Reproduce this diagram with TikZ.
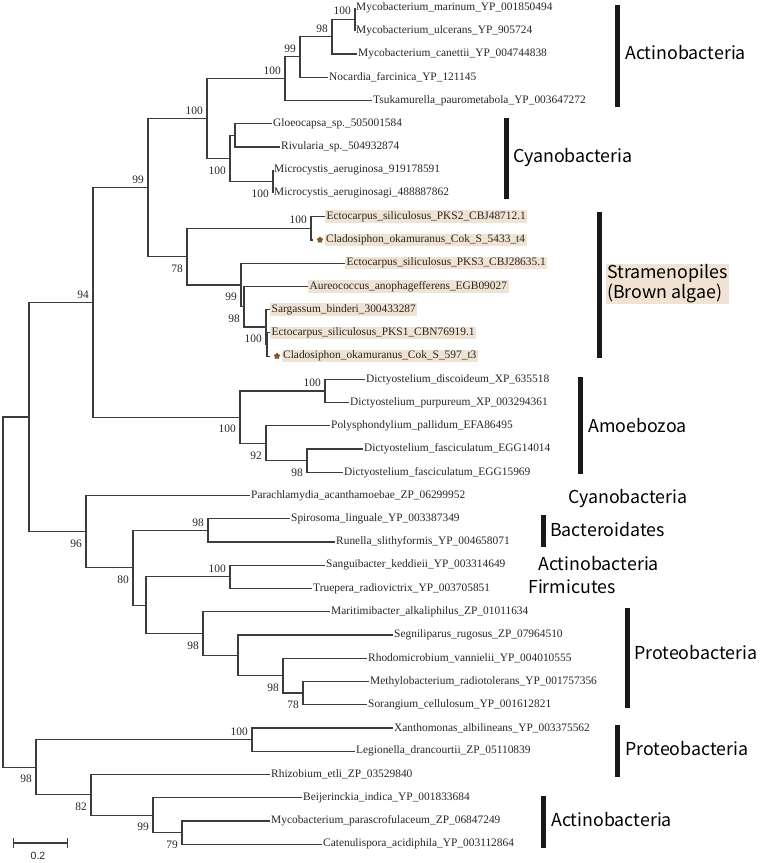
\documentclass[tikz,border=0pt]{standalone}
\usepackage{fontspec}
\setmainfont{Liberation Serif}
\newfontfamily\cladefont{Noto Sans CJK JP}
\newfontfamily\scalebarfont{Liberation Sans}
\usetikzlibrary{shapes.geometric,arrows.meta}
\definecolor{hlbeige}{RGB}{240,227,211}
\definecolor{starbrown}{RGB}{139,84,38}
\definecolor{branchgray}{RGB}{60,60,60}
\tikzset{
  branch/.style={draw=branchgray, line width=1.2pt},
  leaf/.style={anchor=west, inner sep=1pt, font=\fontsize{11.4}{13}\selectfont, text=black!85},
  leafhl/.style={leaf, fill=hlbeige, inner xsep=1.5pt, inner ysep=1pt},
  boot/.style={inner sep=0pt, font=\fontsize{11.4}{13}\selectfont, text=black!85},
  bootup/.style={boot, anchor=south east, xshift=-4pt, yshift=4pt},
  bootdn/.style={boot, anchor=north east, xshift=-4pt, yshift=-8pt},
  cladebar/.style={line width=5pt, black!90},
  clade/.style={anchor=west, inner sep=0pt, font=\cladefont\fontsize{17.8}{20}\selectfont},
  starmark/.style={star, star points=5, fill=starbrown, inner sep=0pt, minimum size=7pt},
}
\begin{document}
\begin{tikzpicture}[x=1pt,y=-1pt]
\useasboundingbox (0,0) rectangle (760,863);
\foreach \i/\t/\s in {1/355/Mycobacterium\_marinum\_YP\_001850494,
  2/355/Mycobacterium\_ulcerans\_YP\_905724,
  3/357/Mycobacterium\_canettii\_YP\_004744838,
  4/328/Nocardia\_farcinica\_YP\_121145,
  5/372/Tsukamurella\_paurometabola\_YP\_003647272,
  6/272/Gloeocapsa\_sp.\_505001584,
  7/280/Rivularia\_sp.\_504932874,
  8/273/Microcystis\_aeruginosa\_919178591,
  9/273/Microcystis\_aeruginosagi\_488887862,
  17/365/Dictyostelium\_discoideum\_XP\_635518,
  18/349/Dictyostelium\_purpureum\_XP\_003294361,
  19/330/Polysphondylium\_pallidum\_EFA86495,
  20/363/Dictyostelium\_fasciculatum\_EGG14014,
  21/343/Dictyostelium\_fasciculatum\_EGG15969,
  22/250/Parachlamydia\_acanthamoebae\_ZP\_06299952,
  23/290/Spirosoma\_linguale\_YP\_003387349,
  24/335/Runella\_slithyformis\_YP\_004658071,
  25/325/Sanguibacter\_keddieii\_YP\_003314649,
  26/312/Truepera\_radiovictrix\_YP\_003705851,
  27/330/Maritimibacter\_alkaliphilus\_ZP\_01011634,
  28/393/Segniliparus\_rugosus\_ZP\_07964510,
  29/367/Rhodomicrobium\_vannielii\_YP\_004010555,
  30/369/Methylobacterium\_radiotolerans\_YP\_001757356,
  31/367/Sorangium\_cellulosum\_YP\_001612821,
  32/393/Xanthomonas\_albilineans\_YP\_003375562,
  33/355/Legionella\_drancourtii\_ZP\_05110839,
  34/270/Rhizobium\_etli\_ZP\_03529840,
  35/302/Beijerinckia\_indica\_YP\_001833684,
  36/270/Mycobacterium\_parascrofulaceum\_ZP\_06847249,
  37/322/Catenulispora\_acidiphila\_YP\_003112864} {
  \coordinate (l\i) at (\t,{7.5+(\i-1)*23.24});
  \node[leaf] (t\i) at (l\i) {\s};
}
\foreach \i/\t/\s in {10/325/Ectocarpus\_siliculosus\_PKS2\_CBJ48712.1,
  12/345/Ectocarpus\_siliculosus\_PKS3\_CBJ28635.1,
  13/308/Aureococcus\_anophagefferens\_EGB09027,
  14/270/Sargassum\_binderi\_300433287,
  15/270/Ectocarpus\_siliculosus\_PKS1\_CBN76919.1} {
  \coordinate (l\i) at (\t,{7.5+(\i-1)*23.24});
  \node[leafhl] (t\i) at (l\i) {\s};
}
\foreach \i/\t/\s in {11/313/Cladosiphon\_okamuranus\_Cok\_S\_5433\_t4,
  16/270/Cladosiphon\_okamuranus\_Cok\_S\_597\_t3} {
  \coordinate (l\i) at (\t,{7.5+(\i-1)*23.24});
  \node[starmark] (s\i) at ([xshift=7pt]l\i) {};
  \node[leafhl] (t\i) at ([xshift=11.5pt]l\i) {\s};
}
\coordinate (n1) at (355,19.12);
\coordinate (n2) at (332,36.55);
\coordinate (n3) at (300,56.89);
\coordinate (n4) at (285,78.67);
\coordinate (n5) at (235,135.32);
\coordinate (n6) at (273,181.8);
\coordinate (n7) at (230,158.56);
\coordinate (n8) at (207,118.62);
\coordinate (n9) at (311,228.28);
\coordinate (c2) at (267,344.48);
\coordinate (c1) at (266,327.05);
\coordinate (nb) at (244,306.72);
\coordinate (na) at (241,284.93);
\coordinate (ns) at (187,256.6);
\coordinate (nr) at (148,187.61);
\coordinate (am1) at (325,390.96);
\coordinate (am2) at (307,460.68);
\coordinate (am3) at (266,443.25);
\coordinate (am4) at (240,417.1);
\coordinate (nt) at (93,302.36);
\coordinate (nf) at (208,530.4);
\coordinate (nh) at (230,576.88);
\coordinate (nl) at (303,693.08);
\coordinate (nk) at (283,675.65);
\coordinate (nj) at (238,655.32);
\coordinate (ni) at (203,633.53);
\coordinate (ng) at (146,605.2);
\coordinate (ne) at (133,567.8);
\coordinate (nd) at (86,531.67);
\coordinate (nu) at (29,417.0);
\coordinate (nn) at (252,739.56);
\coordinate (nq) at (182,832.52);
\coordinate (np) at (153,815.09);
\coordinate (no) at (91,794.76);
\coordinate (nm) at (36,767.16);
\coordinate (root) at (3,592.08);
\foreach \p/\a/\b in {n1/l1/l2, n2/n1/l3, n3/n2/l4, n4/n3/l5, n5/l6/l7, n6/l8/l9,
  n7/n5/n6, n8/n4/n7, n9/l10/l11, c2/l15/l16, c1/l14/c2, nb/l13/c1, na/l12/nb,
  ns/n9/na, nr/n8/ns, am1/l17/l18, am2/l20/l21, am3/l19/am2, am4/am1/am3,
  nt/nr/am4, nf/l23/l24, nh/l25/l26, nl/l30/l31, nk/l29/nl, nj/l28/nk,
  ni/l27/nj, ng/nh/ni, ne/nf/ng, nd/l22/ne, nu/nt/nd, nn/l32/l33, nq/l36/l37,
  np/l35/nq, no/l34/np, nm/nn/no, root/nu/nm} {
  \draw[branch] (\a) -| (\p) |- (\b);
}
\foreach \n/\v in {n1/100, n2/98, n3/99, n4/100, n8/100, n9/100, nr/99, nt/94,
  am1/100, nf/98, nh/100, nn/100} {
  \node[bootup] (b\n) at (\n) {\v};
}
\foreach \n/\v in {n6/100, n7/100, c1/100, nb/98, na/99, ns/78, am2/98, am3/92,
  am4/100, nd/96, ne/80, ni/98, nk/98, nl/78, nm/98, no/82, np/99, nq/79} {
  \node[bootdn] (b\n) at (\n) {\v};
}
\draw[cladebar] (617,5) -- (617,107);
\node[clade] (actino1) at (625,53) {Actinobacteria};
\draw[cladebar] (506,118) -- (506,199);
\node[clade] (cyano1) at (513,157) {Cyanobacteria};
\draw[cladebar] (599,212) -- (599,358);
\node[clade, fill=hlbeige, align=left, inner sep=1pt] (strameno) at (606,284) {Stramenopiles\\(Brown algae)};
\draw[cladebar] (580,377) -- (580,474);
\node[clade] (amoebo) at (588,426) {Amoebozoa};
\node[clade] (cyano2) at (568,498) {Cyanobacteria};
\draw[cladebar] (543,515) -- (543,547);
\node[clade] (bactero) at (550,530) {Bacteroidates};
\node[clade] (actino2) at (538,564) {Actinobacteria};
\node[clade] (firmi) at (528,587) {Firmicutes};
\draw[cladebar] (627,608) -- (627,708);
\node[clade] (proteo1) at (634,653) {Proteobacteria};
\draw[cladebar] (617,725) -- (617,777);
\node[clade] (proteo2) at (625,749) {Proteobacteria};
\draw[cladebar] (543,796) -- (543,848);
\node[clade] (actino3) at (551,820) {Actinobacteria};
\coordinate (sb1) at (13,843);
\coordinate (sb2) at (68,843);
\draw[branch, {Bar[width=10pt]}-{Bar[width=10pt]}] (sb1) -- (sb2);
\node[font=\scalebarfont\fontsize{10.5}{12}\selectfont, text=black!85] (sblabel) at (38,856) {0.2};
\end{tikzpicture}
\end{document}
